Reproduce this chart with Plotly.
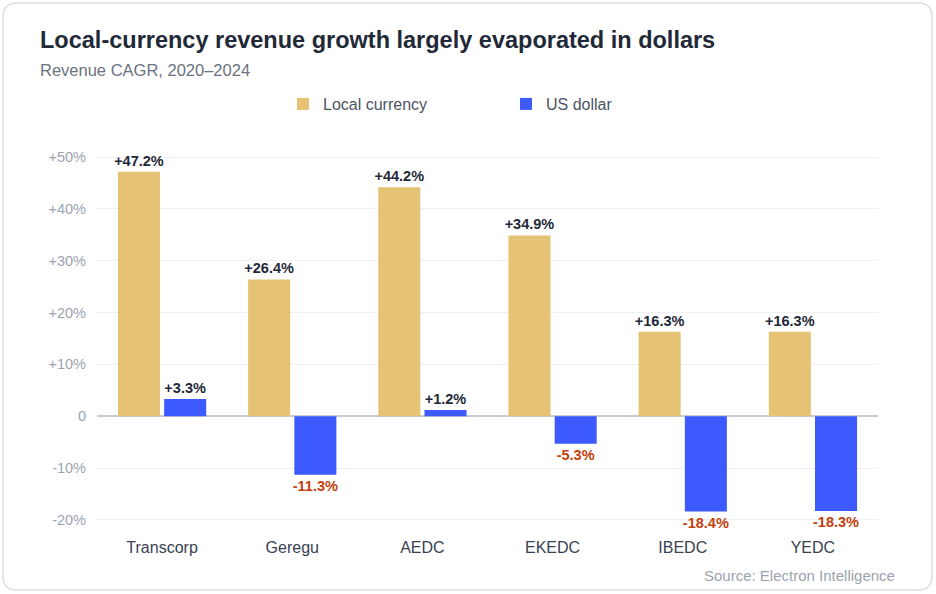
import plotly.graph_objects as go

categories = ["Transcorp", "Geregu", "AEDC", "EKEDC", "IBEDC", "YEDC"]
local_currency = [47.2, 26.4, 44.2, 34.9, 16.3, 16.3]
us_dollar = [3.3, -11.3, 1.2, -5.3, -18.4, -18.3]
tick_vals = [-20, -10, 0, 10, 20, 30, 40, 50]
tick_text = ["-20%", "-10%", "0", "+10%", "+20%", "+30%", "+40%", "+50%"]

W, H = 936, 594
ML, MR, MT, MB = 97, 58, 152, 69
PW, PH = W - ML - MR, H - MT - MB

FONT = "Liberation Sans, Arial, Helvetica, sans-serif"
GOLD = "#e6c274"
BLUE = "#3d5afe"
POS = "#1f2937"
NEG = "#c2410c"


def fmt(v):
    return f"<b>{'+' if v >= 0 else ''}{v:.1f}%</b>"


def colors(vals):
    return [POS if v >= 0 else NEG for v in vals]


fig = go.Figure()
fig.add_trace(go.Bar(
    name="Local currency", x=categories, y=local_currency,
    marker=dict(color=GOLD, line=dict(width=0)),
    text=[fmt(v) for v in local_currency], textposition="outside",
    textfont=dict(family=FONT, size=14.5, color=colors(local_currency)),
    cliponaxis=False, constraintext="none", hoverinfo="skip",
))
fig.add_trace(go.Bar(
    name="US dollar", x=categories, y=us_dollar,
    marker=dict(color=BLUE, line=dict(width=0)),
    text=[fmt(v) for v in us_dollar], textposition="outside",
    textfont=dict(family=FONT, size=14.5, color=colors(us_dollar)),
    cliponaxis=False, constraintext="none", hoverinfo="skip",
))


def px2x(px):
    return (px - ML) / PW


def px2y(py):
    return (H - MB - py) / PH


# rounded card border
x0, x1, y0, y1, r = 3, 932, 3, 590, 14
path = (
    f"M {px2x(x0 + r)},{px2y(y0)} L {px2x(x1 - r)},{px2y(y0)} "
    f"Q {px2x(x1)},{px2y(y0)} {px2x(x1)},{px2y(y0 + r)} "
    f"L {px2x(x1)},{px2y(y1 - r)} Q {px2x(x1)},{px2y(y1)} {px2x(x1 - r)},{px2y(y1)} "
    f"L {px2x(x0 + r)},{px2y(y1)} Q {px2x(x0)},{px2y(y1)} {px2x(x0)},{px2y(y1 - r)} "
    f"L {px2x(x0)},{px2y(y0 + r)} Q {px2x(x0)},{px2y(y0)} {px2x(x0 + r)},{px2y(y0)} Z"
)

fig.update_layout(
    width=W, height=H,
    margin=dict(l=ML, r=MR, t=MT, b=MB, pad=0),
    paper_bgcolor="white", plot_bgcolor="white",
    font=dict(family=FONT, color="#374151"),
    barmode="group", bargap=0.29, bargroupgap=0.09,
    showlegend=True,
    legend=dict(
        orientation="h", x=px2x(283), xanchor="left", y=px2y(104), yanchor="middle",
        font=dict(family=FONT, size=16, color="#4b5563"),
        entrywidth=178, entrywidthmode="pixels",
        bgcolor="rgba(0,0,0,0)", traceorder="normal",
    ),
    xaxis=dict(
        tickfont=dict(family=FONT, size=16, color="#374151"),
        showgrid=False, showline=False, zeroline=False, ticks="",
        ticklabelstandoff=11,
    ),
    yaxis=dict(
        range=[-21, 51], tickvals=tick_vals, ticktext=tick_text,
        tickfont=dict(family=FONT, size=14.5, color="#9ca3af"),
        showgrid=True, gridcolor="#eef0f3", gridwidth=1,
        zeroline=True, zerolinecolor="#c6cbd3", zerolinewidth=1.5,
        showline=False, ticks="", ticklabelstandoff=10,
    ),
    shapes=[dict(type="path", xref="paper", yref="paper", path=path,
                 line=dict(color="#d9dde3", width=1.5), fillcolor="rgba(0,0,0,0)",
                 layer="below")],
    annotations=[
        dict(text="<b>Local-currency revenue growth largely evaporated in dollars</b>",
             xref="paper", yref="paper", x=px2x(38), y=px2y(40), xanchor="left", yanchor="middle",
             showarrow=False, font=dict(family=FONT, size=23.5, color="#1f2937")),
        dict(text="Revenue CAGR, 2020–2024",
             xref="paper", yref="paper", x=px2x(38), y=px2y(70), xanchor="left", yanchor="middle",
             showarrow=False, font=dict(family=FONT, size=16.5, color="#6b7280")),
        dict(text="Source: Electron Intelligence",
             xref="paper", yref="paper", x=px2x(897), y=px2y(575), xanchor="right", yanchor="middle",
             showarrow=False, font=dict(family=FONT, size=15, color="#9ca3af")),
    ],
)

fig.write_html("out.html", config={"displayModeBar": False},
               post_script="document.body.style.margin='0';")
